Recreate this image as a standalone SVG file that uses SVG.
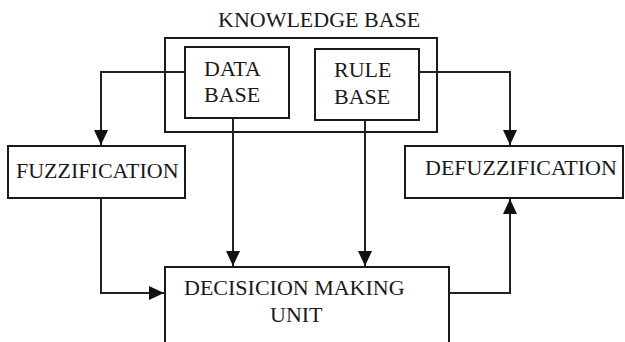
<svg xmlns="http://www.w3.org/2000/svg" width="625" height="342" viewBox="0 0 625 342">
<style>
.box{fill:#fff;stroke:#1a1a1a;stroke-width:2}
.kb{fill:none;stroke:#1a1a1a;stroke-width:2}
.t{font-family:"Liberation Serif","Times New Roman",serif;font-size:22px;fill:#1a1a1a}
.c{fill:none;stroke:#222;stroke-width:2;marker-end:url(#ah)}
</style>
<defs>
<marker id="ah" markerUnits="userSpaceOnUse" markerWidth="15" markerHeight="14" refX="15" refY="7" orient="auto">
<path d="M0,0 L15,7 L0,14 Z" fill="#111"/>
</marker>
</defs>
<rect width="625" height="342" fill="#fff"/>
<g id="knowledge-base">
<rect class="kb" x="165" y="38" width="272" height="94"/>
<text class="t" x="218" y="27">KNOWLEDGE BASE</text>
</g>
<g id="data-base">
<rect class="box" x="185" y="47" width="104" height="71"/>
<text class="t" x="204" y="76">DATA</text>
<text class="t" x="204" y="102">BASE</text>
</g>
<g id="rule-base">
<rect class="box" x="315" y="49" width="104" height="71"/>
<text class="t" x="334" y="77">RULE</text>
<text class="t" x="334" y="104">BASE</text>
</g>
<g id="fuzzification">
<rect class="box" x="8" y="146" width="177" height="52"/>
<text class="t" x="16" y="178">FUZZIFICATION</text>
</g>
<g id="defuzzification">
<rect class="box" x="405" y="146" width="218" height="52"/>
<text class="t" x="425" y="175">DEFUZZIFICATION</text>
</g>
<g id="decision-making-unit">
<rect class="box" x="165" y="267" width="284" height="90"/>
<text class="t" x="184" y="295">DECISICION MAKING</text>
<text class="t" x="270" y="322">UNIT</text>
</g>
<g id="connectors">
<path class="c" d="M185,72 H101 V145"/>
<path class="c" d="M419,72 H510 V145"/>
<path class="c" d="M233,118 V266"/>
<path class="c" d="M365,120 V266"/>
<path class="c" d="M101,198 V293 H164"/>
<path class="c" d="M449,293 H510 V199"/>
</g>
</svg>
